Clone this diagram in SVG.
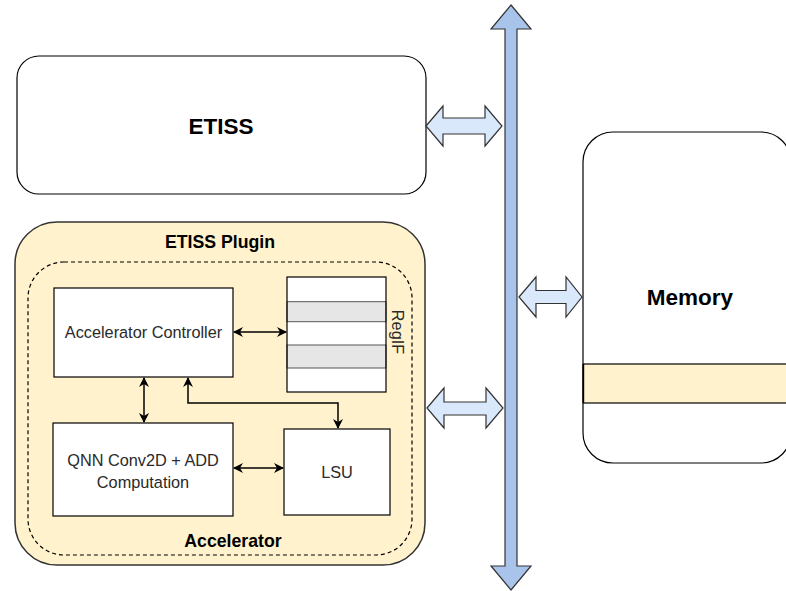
<svg xmlns="http://www.w3.org/2000/svg" width="786" height="591" viewBox="0 0 786 591">
<defs>
<marker id="ah" viewBox="0 0 10 10" refX="9" refY="5" markerWidth="10" markerHeight="10" orient="auto-start-reverse" markerUnits="userSpaceOnUse">
<path d="M0,0 L10,5 L0,10 L3,5 Z" fill="#000"/>
</marker>
</defs>
<style>
.box{fill:#fff;stroke:#000;stroke-width:1.2}
.lbl{font-family:"Liberation Sans",Arial,sans-serif;fill:#2a2a2a;text-anchor:middle}
.node{font-size:16.3px}
.title{font-size:17.7px;font-weight:bold;fill:#000}
.big{font-size:22.5px;font-weight:bold;fill:#000}
.con{fill:none;stroke:#000;stroke-width:1.5;marker-start:url(#ah);marker-end:url(#ah)}
.harrow{fill:#dae8fc;stroke:#333;stroke-width:1.2;stroke-linejoin:miter}
</style>
<rect width="786" height="591" fill="#fff"/>

<g id="etiss">
<rect class="box" x="17" y="56" width="409" height="138" rx="22"/>
<text class="lbl big" x="221" y="134">ETISS</text>
</g>

<g id="memory">
<rect class="box" x="583" y="132" width="208" height="331" rx="30"/>
<rect x="583.6" y="364" width="210" height="39" fill="#fff2cc" stroke="#000" stroke-width="1.2"/>
<line x1="583" y1="364" x2="583" y2="403" stroke="#000" stroke-width="1.2"/>
<text class="lbl big" x="690" y="305">Memory</text>
</g>

<g id="etiss-plugin">
<rect x="15" y="222" width="410" height="343" rx="42" fill="#fff2cc" stroke="#333" stroke-width="1.5"/>
<text class="lbl title" x="220" y="247.5">ETISS Plugin</text>
</g>

<g id="accelerator">
<rect x="28" y="262" width="384" height="293" rx="36" fill="none" stroke="#000" stroke-width="1.2" stroke-dasharray="4 3"/>
<text class="lbl title" x="233" y="547">Accelerator</text>
</g>

<g id="accelerator-controller">
<rect class="box" x="54" y="288" width="179" height="89"/>
<text class="lbl node" x="143.5" y="338">Accelerator Controller</text>
</g>

<g id="regif">
<rect x="287" y="277" width="99" height="115" fill="#fff" stroke="none"/>
<rect x="287" y="301.7" width="99" height="20" fill="#e6e6e6" stroke="#555" stroke-width="1"/>
<rect x="287" y="345" width="99" height="23" fill="#e6e6e6" stroke="#555" stroke-width="1"/>
<rect x="287" y="277" width="99" height="115" fill="none" stroke="#000" stroke-width="1.2"/>
<text class="lbl node" transform="translate(397,332) rotate(90)" x="0" y="5.5">RegIF</text>
</g>

<g id="qnn">
<rect class="box" x="53" y="423" width="180" height="93"/>
<text class="lbl node" x="143" y="466">QNN Conv2D + ADD</text>
<text class="lbl node" x="143" y="488">Computation</text>
</g>

<g id="lsu">
<rect class="box" x="284" y="429" width="106" height="86"/>
<text class="lbl node" x="337" y="478">LSU</text>
</g>

<g id="bus">
<polygon points="511,5 531,29 517,29 517,566 531,566 511,590 491,566 505,566 505,29 491,29" fill="#a9c4eb" stroke="#333" stroke-width="1.2"/>
</g>

<g id="connectors">
<polygon class="harrow" points="426,126 443,106 443,118 485,118 485,106 502,126 485,146 485,134 443,134 443,146"/>
<polygon class="harrow" points="519,297 536,277 536,290.5 566,290.5 566,277 582,297 566,317 566,303.5 536,303.5 536,317"/>
<polygon class="harrow" points="427,408 444,388 444,402 486,402 486,388 503,408 486,428 486,415 444,415 444,428"/>
<path class="con" d="M234,332 L286,332"/>
<path class="con" d="M144,378 L144,422"/>
<path class="con" d="M188,378 L188,403 L338,403 L338,428"/>
<path class="con" d="M234,468 L283,468"/>
</g>
</svg>
